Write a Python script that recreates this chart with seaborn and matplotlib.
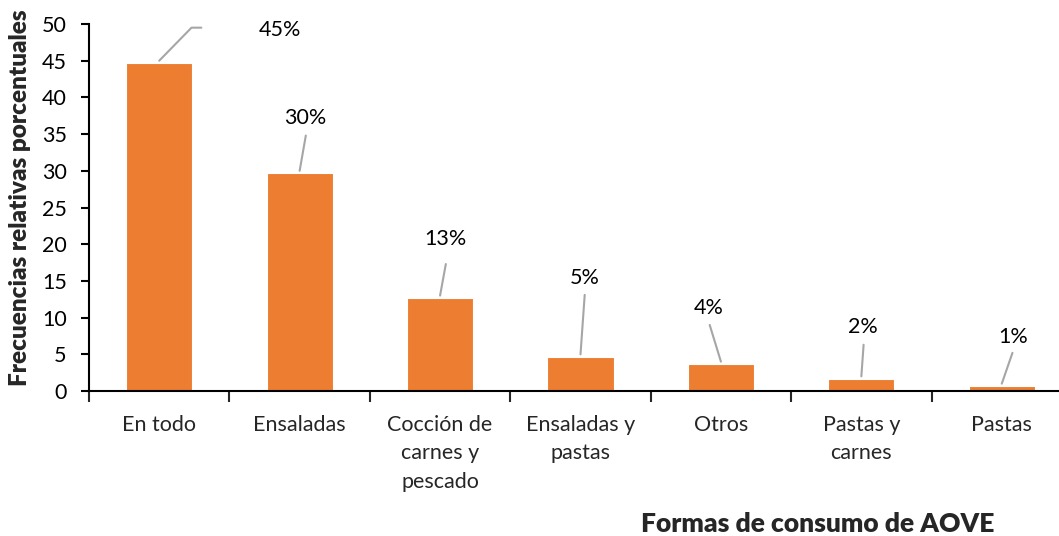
import matplotlib
matplotlib.use('Agg')
import matplotlib.pyplot as plt
import seaborn as sns
import pandas as pd

# --- Datos ---
categorias = ['En todo', 'Ensaladas', 'Cocción de\ncarnes y\npescado', 'Ensaladas y\npastas',
              'Otros', 'Pastas y\ncarnes', 'Pastas']
valores = [44.7, 29.7, 12.7, 4.7, 3.7, 1.7, 0.7]
etiquetas = ['45%', '30%', '13%', '5%', '4%', '2%', '1%']

# posiciones de las etiquetas (x, y) en unidades de datos
etiqueta_x = [0.86, 1.04, 2.04, 3.03, 3.91, 5.01, 6.08]
etiqueta_y = [49.25, 37.2, 20.7, 15.4, 11.3, 8.7, 7.4]
# extremo superior de la línea guía
linea_x = [0.23, 1.044, 2.041, 3.03, 3.92, 5.016, 6.076]
linea_y = [49.5, 34.8, 17.3, 13.1, 9.0, 6.3, 5.2]

df = pd.DataFrame({'forma': categorias, 'frecuencia': valores})

sns.set_style('white')
plt.rcParams['font.family'] = ['Lato', 'DejaVu Sans']

fig = plt.figure(figsize=(10.59, 5.36), dpi=100)
ax = fig.add_axes([89 / 1059, 1 - 391 / 536, (1072 - 89) / 1059, (391 - 24) / 536])

sns.barplot(data=df, x='forma', y='frecuencia', color='#ED7D31', saturation=1,
            width=0.47, edgecolor='white', linewidth=0.8, ax=ax)

# líneas guía y etiquetas de porcentaje
for i, v in enumerate(valores):
    xs = [i, linea_x[i]]
    ys = [v + 0.3, linea_y[i]]
    if i == 0:
        xs.append(0.30)
        ys.append(49.5)
    ax.plot(xs, ys, color='#A6A6A6', lw=1.5, clip_on=False)
    ax.text(etiqueta_x[i], etiqueta_y[i], etiquetas[i], ha='center', va='center',
            fontsize=15.5, color='black')

ax.set_ylim(0, 50)
ax.set_xlim(-0.5, 6.5)
ax.set_yticks(range(0, 51, 5))
ax.tick_params(axis='y', labelsize=15.5, length=6, width=1.5, left=True, colors='black', pad=10)
ax.tick_params(axis='x', which='major', length=0, labelsize=15.5, pad=17)
ax.set_xticks([i - 0.5 for i in range(8)], minor=True)
ax.tick_params(axis='x', which='minor', length=8, width=1.5, bottom=True, direction='out')
for lbl in ax.get_xticklabels():
    lbl.set_linespacing(1.55)
    lbl.set_va('top')

ax.spines['top'].set_visible(False)
ax.spines['right'].set_visible(False)
ax.spines['left'].set_linewidth(1.5)
ax.spines['bottom'].set_linewidth(1.5)
ax.spines['left'].set_color('black')
ax.spines['bottom'].set_color('black')
ax.set_xlabel('')
ax.set_ylabel('')

fig.text(20 / 1059, 1 - 198 / 536, 'Frecuencias relativas porcentuales', rotation=90,
         ha='center', va='center', fontsize=17.5, fontweight='heavy')
fig.text(818 / 1059, 1 - 524 / 536, 'Formas de consumo de AOVE', ha='center', va='center',
         fontsize=19, fontweight='heavy')

fig.savefig('out.png', dpi=100)
